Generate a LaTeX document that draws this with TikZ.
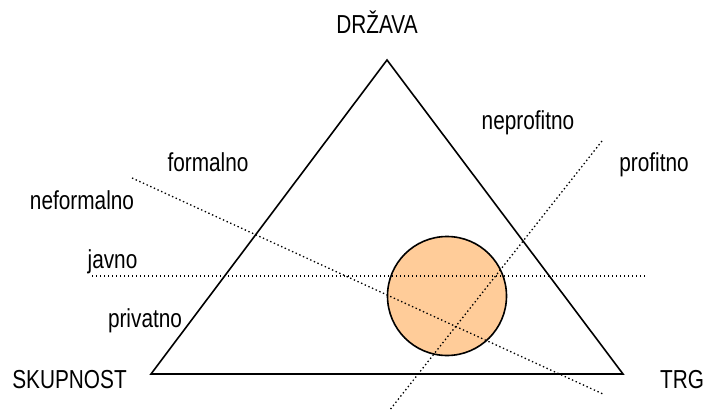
\documentclass[tikz,border=0pt]{standalone}
\usepackage{fontspec}
\setmainfont[FakeStretch=0.8]{Liberation Sans}
\begin{document}
\begin{tikzpicture}[x=1pt,y=-1pt,
  lbl/.style={anchor=base,inner sep=0pt,font=\fontsize{26}{30}\selectfont},
  edge/.style={line width=1.6pt,line join=miter},
  dotline/.style={line width=1.3pt,dash pattern=on 1.4pt off 2.6pt},
  blob/.style={circle,draw,line width=1.6pt,fill=orange!40!white,fill=blobc,minimum size=119pt,inner sep=0pt}]
\definecolor{blobc}{RGB}{255,204,153}
\useasboundingbox (0,0) rectangle (707,412);
% triangle vertices
\coordinate (top) at (387,60);
\coordinate (bl) at (151,374);
\coordinate (br) at (623,374);
% circle
\node[blob] (c) at (447,296) {};
% dotted line end points
\coordinate (h1) at (92,276);
\coordinate (h2) at (645,276);
\coordinate (f1) at (132,178);
\coordinate (f2) at (603,394);
\coordinate (p1) at (602,141);
\coordinate (p2) at (389,411);
\draw[dotline] (h1) -- (h2);
\draw[dotline] (f1) -- (f2);
\draw[dotline] (p1) -- (p2);
\draw[edge] (top) -- (br) -- (bl) -- cycle;
% labels
\node[lbl] (drzava) at (377,34) {DRŽAVA};
\node[lbl] (skup) at (69.5,388) {SKUPNOST};
\node[lbl] (trg) at (682,388) {TRG};
\node[lbl] (formalno) at (208,171) {formalno};
\node[lbl] (neformalno) at (82,209) {neformalno};
\node[lbl] (javno) at (112.5,268) {javno};
\node[lbl] (privatno) at (145,327) {privatno};
\node[lbl] (neprofitno) at (528,129) {neprofitno};
\node[lbl] (profitno) at (654,171) {profitno};
\end{tikzpicture}
\end{document}
